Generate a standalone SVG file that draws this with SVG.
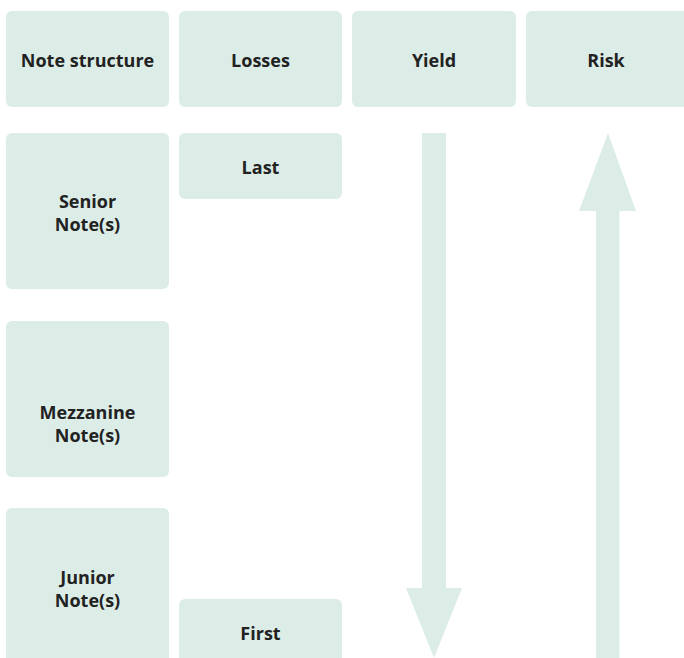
<svg xmlns="http://www.w3.org/2000/svg" width="684" height="658" viewBox="0 0 684 658">
  <style>
    .box { fill: #dcede7; }
    .lbl { font-family: "Open Sans", "Noto Sans", sans-serif; font-weight: 700; font-size: 18px; fill: #222222; text-anchor: middle; }
    .arrow { fill: #dcede7; }
  </style>
  <rect width="684" height="658" fill="#ffffff"/>

  <!-- column headers -->
  <g id="hdr-structure"><rect class="box" x="6" y="11" width="163" height="96" rx="6"/><text class="lbl" x="87.5" y="66.5">Note structure</text></g>
  <g id="hdr-losses"><rect class="box" x="179" y="11" width="163" height="96" rx="6"/><text class="lbl" x="260.5" y="66.5">Losses</text></g>
  <g id="hdr-yield"><rect class="box" x="352" y="11" width="164" height="96" rx="6"/><text class="lbl" x="434" y="66.5">Yield</text></g>
  <g id="hdr-risk"><rect class="box" x="526" y="11" width="170" height="96" rx="6"/><text class="lbl" x="606" y="66.5">Risk</text></g>

  <!-- note tranches -->
  <g id="senior"><rect class="box" x="6" y="133" width="163" height="156" rx="6"/><text class="lbl" x="87.5" y="207.5">Senior</text><text class="lbl" x="87.5" y="230.5">Note(s)</text></g>
  <g id="mezzanine"><rect class="box" x="6" y="321" width="163" height="156" rx="6"/><text class="lbl" x="87.5" y="418.5">Mezzanine</text><text class="lbl" x="87.5" y="441.5">Note(s)</text></g>
  <g id="junior"><rect class="box" x="6" y="508" width="163" height="162" rx="6"/><text class="lbl" x="87.5" y="583.5">Junior</text><text class="lbl" x="87.5" y="606.5">Note(s)</text></g>

  <!-- loss order -->
  <g id="loss-last"><rect class="box" x="179" y="133" width="163" height="66" rx="6"/><text class="lbl" x="260.5" y="173.5">Last</text></g>
  <g id="loss-first"><rect class="box" x="179" y="599" width="163" height="70" rx="6"/><text class="lbl" x="260.5" y="639.5">First</text></g>

  <!-- yield / risk arrows -->
  <g id="connectors">
    <polygon id="yield-arrow" class="arrow" points="422,133 446,133 446,588 462,588 434,658 406,588 422,588"/>
    <polygon id="risk-arrow" class="arrow" points="608,133 636,211 619.5,211 619.5,658 596,658 596,211 579,211"/>
  </g>
</svg>
